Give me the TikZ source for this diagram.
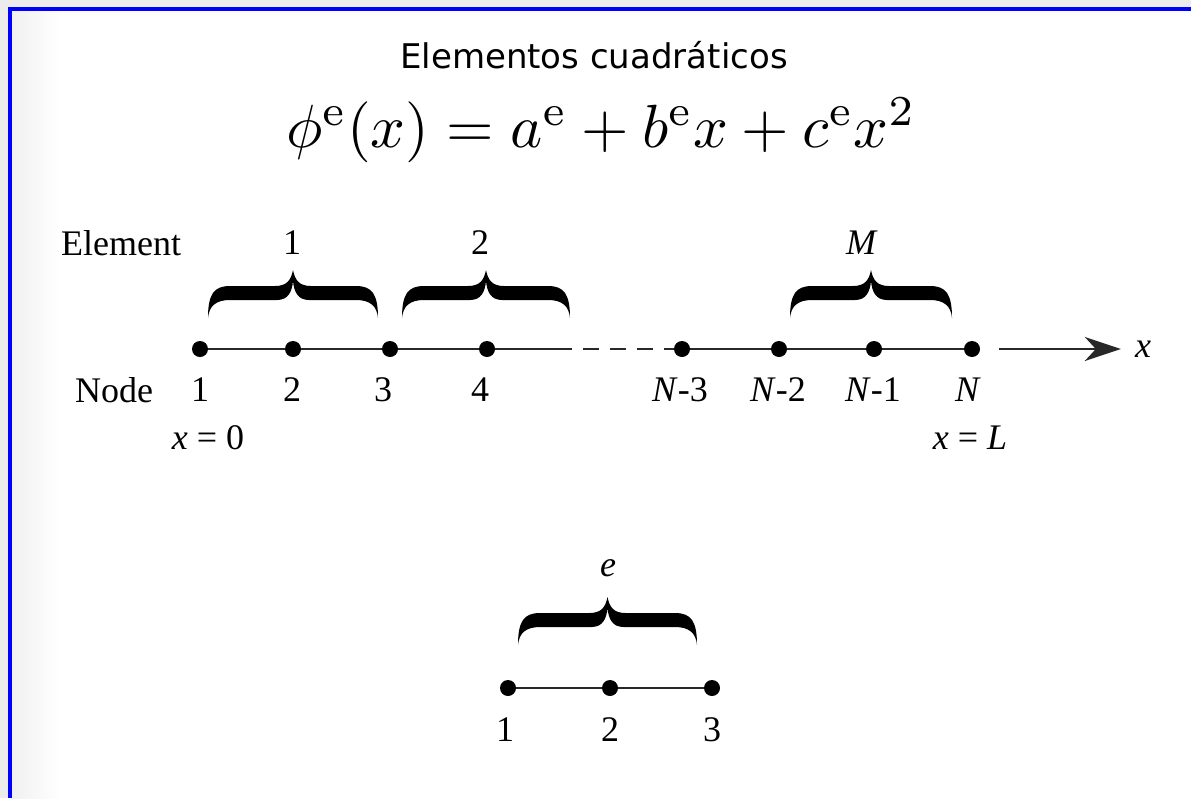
\documentclass[tikz,border=0pt]{standalone}
\usepackage[no-math]{fontspec}
\setmainfont{Liberation Serif}
\newfontfamily\titlefont{DejaVu Sans}
\usetikzlibrary{positioning,arrows.meta}
\definecolor{frameblue}{RGB}{0,0,255}
\definecolor{edgegray}{RGB}{236,236,236}
\definecolor{linegray}{RGB}{40,40,40}

\tikzset{
  dot/.style={circle, fill=black, inner sep=0pt, minimum size=16pt},
  lbl/.style={font=\fontsize{36}{42}\selectfont, inner sep=0pt},
  seg/.style={draw=linegray, line width=2.8pt},
  pics/heavybrace/.style={code={
    \def\bw{#1}
    \fill[black] (0,0) .. controls (0,-24) and (6,-32) .. (22,-32)
      -- ({\bw/2-18},-32) .. controls ({\bw/2-6},-32) and ({\bw/2-2},-38) .. ({\bw/2},-48)
      .. controls ({\bw/2+2},-38) and ({\bw/2+6},-32) .. ({\bw/2+18},-32)
      -- ({\bw-22},-32) .. controls ({\bw-6},-32) and (\bw,-24) .. (\bw,0)
      .. controls ({\bw-1},-12) and ({\bw-8},-18) .. ({\bw-22},-18)
      -- ({\bw/2+16},-18) .. controls ({\bw/2+5},-18) and ({\bw/2+1},-26) .. ({\bw/2},-37)
      .. controls ({\bw/2-1},-26) and ({\bw/2-5},-18) .. ({\bw/2-16},-18)
      -- (22,-18) .. controls (8,-18) and (1,-12) .. (0,0) -- cycle;
  }},
}

\begin{document}
\begin{tikzpicture}[x=1pt, y=-1pt]
  % page, grey margin and blue frame
  \fill[white] (0,0) rectangle (1191,798);
  \useasboundingbox (0,0) rectangle (1191,798);
  \fill[edgegray] (0,0) rectangle (8,798);
  \fill[edgegray] (0,0) rectangle (1191,7);
  \shade[left color=gray!12, right color=white] (11,11) rectangle (60,798);
  \draw[frameblue, line width=4pt] (9.5,798) -- (9.5,9) -- (1191,9);

  % heading
  \node[font=\titlefont\fontsize{34}{40}\selectfont] (title) at (594,55) {Elementos cuadráticos};
  \node[scale=6.1] (eq) at (601,130)
    {$\phi^{\mathrm{e}}(x) = a^{\mathrm{e}} + b^{\mathrm{e}}x + c^{\mathrm{e}}x^2$};

  % global mesh
  \node[lbl] (elem) at (121,243) {Element};
  \node[lbl] (el1) at (292,243) {1};
  \node[lbl] (el2) at (480,243) {2};
  \node[lbl] (elM) at (862,243) {\textit{M}};

  \foreach \name/\px in {n1/200, n2/293, n3/390, n4/487, n5/682, n6/779, n7/874, n8/972}
    \node[dot] (\name) at (\px,349) {};
  \coordinate (gap) at (572,349);
  \node[lbl] (xaxis) at (1143,349) {\textit{x}};

  \draw[seg] (n1) -- (n2) -- (n3) -- (n4) -- (gap);
  \draw[seg, dash pattern=on 16pt off 11pt, dash phase=16pt] (gap) -- (n5);
  \draw[seg] (n5) -- (n6) -- (n7) -- (n8);
  \draw[seg, -{Stealth[length=36pt, width=24pt, inset=11pt]}, shorten <=19pt, shorten >=14pt] (n8) -- (xaxis);

  \coordinate (b1) at (208,318);
  \coordinate (b2) at (402,318);
  \coordinate (bM) at (790,318);
  \pic at (b1) {heavybrace=170};
  \pic at (b2) {heavybrace=168};
  \pic at (bM) {heavybrace=162};

  \node[lbl] (nodetxt) at (114,390) {Node};
  \node[lbl] (lab1) at (200,390) {1};
  \node[lbl] (lab2) at (292,390) {2};
  \node[lbl] (lab3) at (383,390) {3};
  \node[lbl] (lab4) at (480,390) {4};
  \node[lbl] (lab5) at (680,390) {\textit{N}-3};
  \node[lbl] (lab6) at (778,390) {\textit{N}-2};
  \node[lbl] (lab7) at (873,390) {\textit{N}-1};
  \node[lbl] (lab8) at (968,390) {\textit{N}};
  \node[lbl] (xzero) at (208,438) {\textit{x} = 0};
  \node[lbl] (xend) at (970,438) {\textit{x} = \textit{L}};

  % single element
  \node[lbl] (ele) at (608,568) {\textit{e}};
  \coordinate (be) at (518,645);
  \pic at (be) {heavybrace=179};
  \node[dot] (m1) at (508,688) {};
  \node[dot] (m2) at (610,688) {};
  \node[dot] (m3) at (712,688) {};
  \draw[seg] (m1) -- (m2) -- (m3);
  \node[lbl] (loc1) at (505,730) {1};
  \node[lbl] (loc2) at (610,730) {2};
  \node[lbl] (loc3) at (712,730) {3};
\end{tikzpicture}
\end{document}
